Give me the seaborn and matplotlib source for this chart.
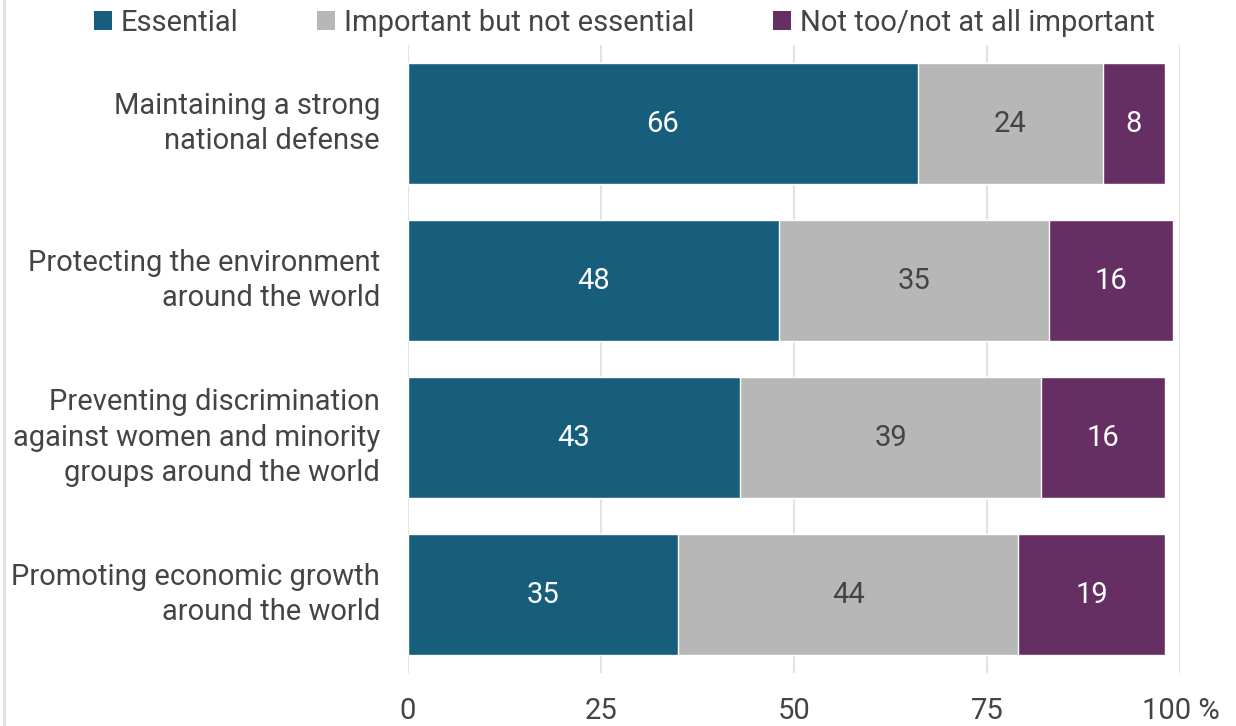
import matplotlib
matplotlib.use("Agg")
import matplotlib.pyplot as plt
import seaborn as sns
import pandas as pd
import numpy as np
from matplotlib.patches import Patch
from matplotlib.lines import Line2D

categories = [
    "Maintaining a strong\nnational defense",
    "Protecting the environment\naround the world",
    "Preventing discrimination\nagainst women and minority\ngroups around the world",
    "Promoting economic growth\naround the world",
]
essential = [66, 48, 43, 35]
important = [24, 35, 39, 44]
not_important = [8, 16, 16, 19]
series_names = ["Essential", "Important but not essential", "Not too/not at all important"]
tick_values = [0, 25, 50, 75, 100]
tick_labels = ["0", "25", "50", "75", "100 %"]

colors = ["#175E7D", "#B7B7B7", "#652F63"]
text_color = "#444444"

sns.set_theme(style="white")
plt.rcParams["font.family"] = ["Roboto", "DejaVu Sans"]

df = pd.DataFrame({
    "cat": categories,
    "e": essential,
    "i": important,
    "n": not_important,
})
df["c1"] = df["e"]
df["c2"] = df["e"] + df["i"]
df["c3"] = df["e"] + df["i"] + df["n"]

fig = plt.figure(figsize=(12.36, 7.26), dpi=100)
ax = fig.add_axes([0.330, 0.073, 0.625, 0.865])

bw = 0.77
sns.barplot(data=df, y="cat", x="c3", color=colors[2], orient="h", width=bw, ax=ax, saturation=1, zorder=3)
sns.barplot(data=df, y="cat", x="c2", color=colors[1], orient="h", width=bw, ax=ax, saturation=1, zorder=3)
sns.barplot(data=df, y="cat", x="c1", color=colors[0], orient="h", width=bw, ax=ax, saturation=1, zorder=3)

fs = 21
for idx, row in df.iterrows():
    starts = [0, row["c1"], row["c2"]]
    vals = [row["e"], row["i"], row["n"]]
    tcols = ["white", text_color, "white"]
    for s, v, tc in zip(starts, vals, tcols):
        ax.text(s + v / 2, idx, f"{v}", ha="center", va="center", color=tc, fontsize=fs, zorder=4)

ax.set_xlim(0, 100)
ax.set_ylim(3.5, -0.5)
ax.set_xticks(tick_values)
ax.set_xticklabels(tick_labels, fontsize=fs, color=text_color)
ax.set_yticks(range(len(categories)))
ax.set_yticklabels(categories, fontsize=fs, color=text_color, linespacing=1.33)
for t in ax.get_yticklabels():
    t.set_verticalalignment("center")
ax.tick_params(axis="both", length=0)
ax.tick_params(axis="x", pad=17)
ax.tick_params(axis="y", pad=20)
ax.set_xlabel("")
ax.set_ylabel("")
for sp in ax.spines.values():
    sp.set_visible(False)
ax.grid(axis="x", color="#E3E3E3", linewidth=1.5, zorder=0)
ax.set_axisbelow(True)

handles = [Patch(facecolor=c, edgecolor="none") for c in colors]
leg = fig.legend(handles, series_names, loc="upper center", bbox_to_anchor=(0.505, 1.024),
                 ncol=3, frameon=False, fontsize=fs, handlelength=0.62, handleheight=0.62,
                 handletextpad=0.3, columnspacing=2.7)
for t in leg.get_texts():
    t.set_color(text_color)

fig.add_artist(Line2D([0.0035, 0.0035], [0, 1], transform=fig.transFigure, color="#E0E0E0", linewidth=2))

fig.savefig("out.png", dpi=100, facecolor="white")
